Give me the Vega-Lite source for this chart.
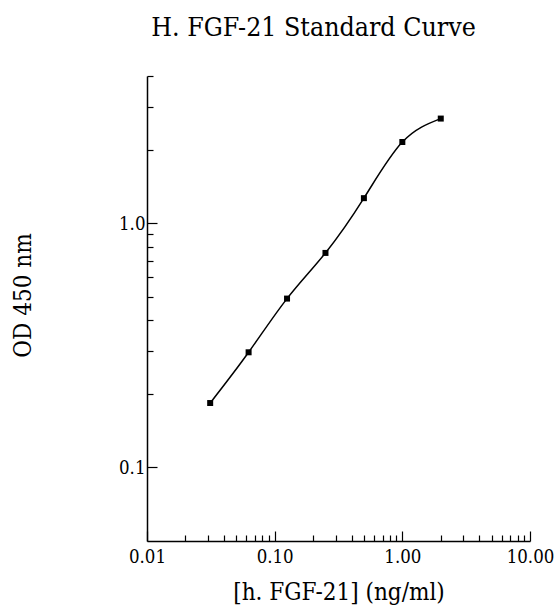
{
  "$schema": "https://vega.github.io/schema/vega-lite/v6.json",
  "width": 383,
  "height": 465,
  "autosize": {"type": "none"},
  "padding": {"left": 147, "top": 76, "right": 27, "bottom": 67},
  "background": "white",
  "title": {
    "text": "H. FGF-21 Standard Curve",
    "font": "DejaVu Serif Condensed",
    "fontSize": 26.5,
    "fontWeight": "normal",
    "color": "black",
    "anchor": "middle",
    "dx": -25,
    "offset": 26
  },
  "data": {
    "values": [
      {"conc": 0.03125, "od": 0.1835},
      {"conc": 0.0625, "od": 0.296},
      {"conc": 0.125, "od": 0.491},
      {"conc": 0.25, "od": 0.755},
      {"conc": 0.5, "od": 1.265},
      {"conc": 1, "od": 2.147},
      {"conc": 2, "od": 2.678}
    ]
  },
  "config": {
    "view": {"stroke": null},
    "axis": {
      "grid": false,
      "domainColor": "black",
      "domainWidth": 1.5,
      "tickColor": "black",
      "tickWidth": 1.2,
      "labelFont": "DejaVu Serif Condensed",
      "labelFontSize": 18.5,
      "labelColor": "black",
      "titleFont": "DejaVu Serif Condensed",
      "titleFontSize": 24,
      "titleFontWeight": "normal",
      "titleColor": "black",
      "labelOverlap": false,
      "labelFlush": false,
      "labelBound": false
    }
  },
  "encoding": {
    "x": {
      "field": "conc",
      "type": "quantitative",
      "scale": {"type": "log", "domain": [0.01, 10]},
      "axis": {
        "title": "[h. FGF-21] (ng/ml)",
        "values": [0.01, 0.02, 0.03, 0.04, 0.05, 0.06, 0.07, 0.08, 0.09, 0.1, 0.2, 0.3, 0.4, 0.5, 0.6, 0.7, 0.8, 0.9, 1, 2, 3, 4, 5, 6, 7, 8, 9, 10],
        "labelExpr": "abs(log(datum.value)/LN10 - round(log(datum.value)/LN10)) < 0.000001 ? format(datum.value, '.2f') : ''",
        "tickSize": {"condition": {"test": "abs(log(datum.value)/LN10 - round(log(datum.value)/LN10)) < 0.000001", "value": -10}, "value": -6},
        "labelPadding": 16,
        "titleY": 58,
        "titleBaseline": "alphabetic"
      }
    },
    "y": {
      "field": "od",
      "type": "quantitative",
      "scale": {"type": "log", "domain": [0.05, 4]},
      "axis": {
        "title": "OD 450 nm",
        "values": [0.1, 0.2, 0.3, 0.4, 0.5, 0.6, 0.7, 0.8, 0.9, 1, 2, 3, 4],
        "labelExpr": "abs(log(datum.value)/LN10 - round(log(datum.value)/LN10)) < 0.000001 ? format(datum.value, '.1f') : ''",
        "tickSize": {"condition": {"test": "abs(log(datum.value)/LN10 - round(log(datum.value)/LN10)) < 0.000001", "value": -10}, "value": -6},
        "labelPadding": 12,
        "titleX": -124,
        "titleY": 219,
        "titleBaseline": "middle",
        "titleAlign": "center",
        "titleAngle": -90
      }
    }
  },
  "layer": [
    {"mark": {"type": "line", "interpolate": "natural", "color": "black", "strokeWidth": 1.5}},
    {"mark": {"type": "square", "size": 36, "color": "black", "opacity": 1, "filled": true}}
  ]
}
